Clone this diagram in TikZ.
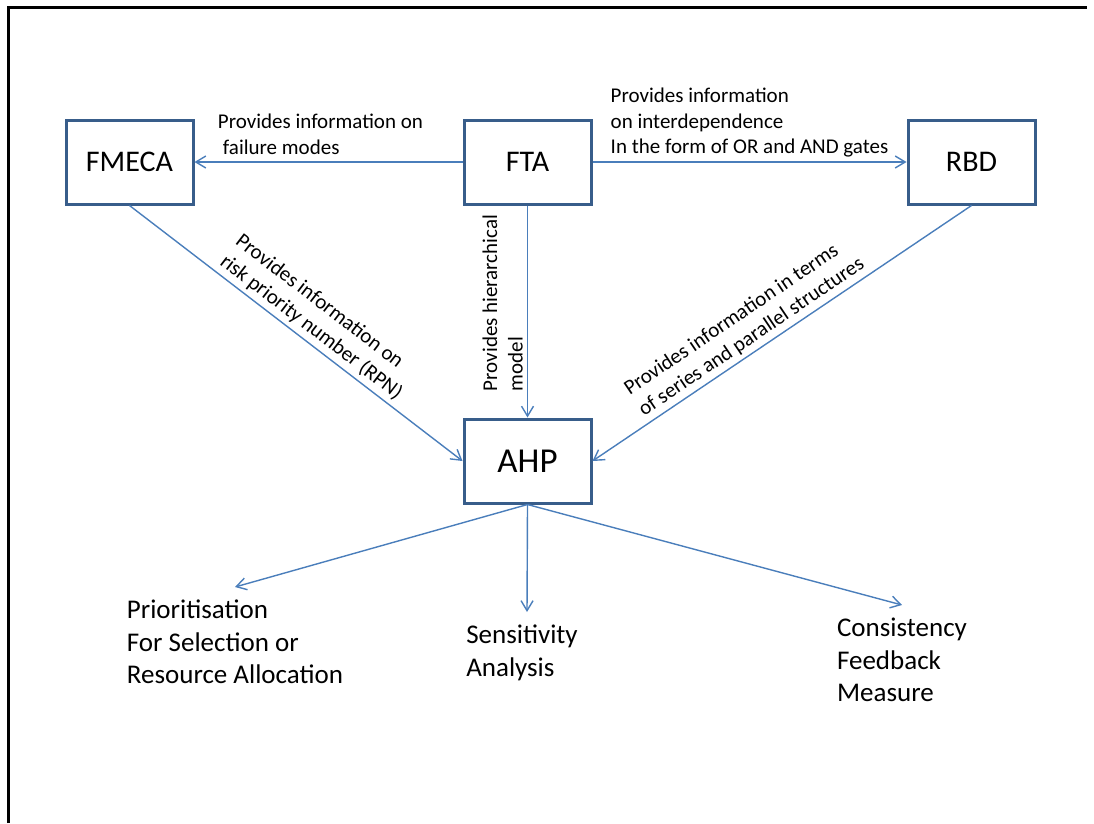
\documentclass[tikz,border=0pt]{standalone}
\usepackage{fontspec}
\setmainfont{Carlito}
\usetikzlibrary{arrows.meta,positioning}
\definecolor{lineblue}{HTML}{4A7EBB}
\definecolor{boxblue}{HTML}{385D8A}

\begin{document}
\begin{tikzpicture}[
  x=1pt, y=-1pt,
  blk/.style={draw=boxblue, line width=3pt, minimum width=127pt, minimum height=84pt, inner sep=2pt, fill=white, font=\fontsize{30}{36}\selectfont},
  lbl/.style={font=\fontsize{21}{25.5}\selectfont, align=left, inner sep=4pt},
  outcome/.style={font=\fontsize{27}{32.5}\selectfont, align=left, inner sep=0pt},
  link/.style={draw=lineblue, line width=1.4pt, -{Straight Barb[length=10pt,width=12pt]}}
]
\useasboundingbox (0,0) rectangle (1094,823);
% page frame
\draw[line width=3pt] (8,823) -- (8,7) -- (1087,7);

\node[blk] (fta) at (527.5,162) {FTA};
\node[blk, left=268pt of fta] (fmeca) {FMECA};
\node[blk, right=314pt of fta] (rbd) {RBD};
\node[blk, below=212pt of fta, font=\fontsize{35}{42}\selectfont] (ahp) {AHP};

\draw[link] (fta.west) -- (fmeca.east)
  node[lbl, pos=0.53, above, yshift=3pt]{Provides information on\\\hspace{5pt}failure modes};
\draw[link] (fta.east) -- (rbd.west)
  node[lbl, midway, above]{Provides information\\on interdependence\\In the form of OR and AND gates};
\draw[link] (fta.south) -- (ahp.north)
  node[lbl, pos=0.46, rotate=90, anchor=south]{Provides hierarchical\\model};
\draw[link] (fmeca.south) -- (ahp.west)
  node[lbl, pos=0.52, sloped, above]{Provides information on\\risk priority number (RPN)};
\draw[link] (rbd.south) -- (ahp.east)
  node[lbl, pos=0.56, sloped, above]{Provides information in terms\\of series and parallel structures};

% outcomes of AHP
\coordinate (tipP) at (235,587);
\coordinate (tipS) at (527,612);
\coordinate (tipC) at (902,605);
\node[outcome, below=13pt of tipP] (prio) {Prioritisation\\For Selection or\\Resource Allocation};
\node[outcome, below=13pt of tipS, xshift=-5pt] (sens) {Sensitivity\\Analysis};
\node[outcome, below=13pt of tipC] (cons) {Consistency\\Feedback\\Measure};
\draw[link] (ahp.south) -- (tipP);
\draw[link] (ahp.south) -- (tipS);
\draw[link] (ahp.south) -- (tipC);
\end{tikzpicture}
\end{document}
